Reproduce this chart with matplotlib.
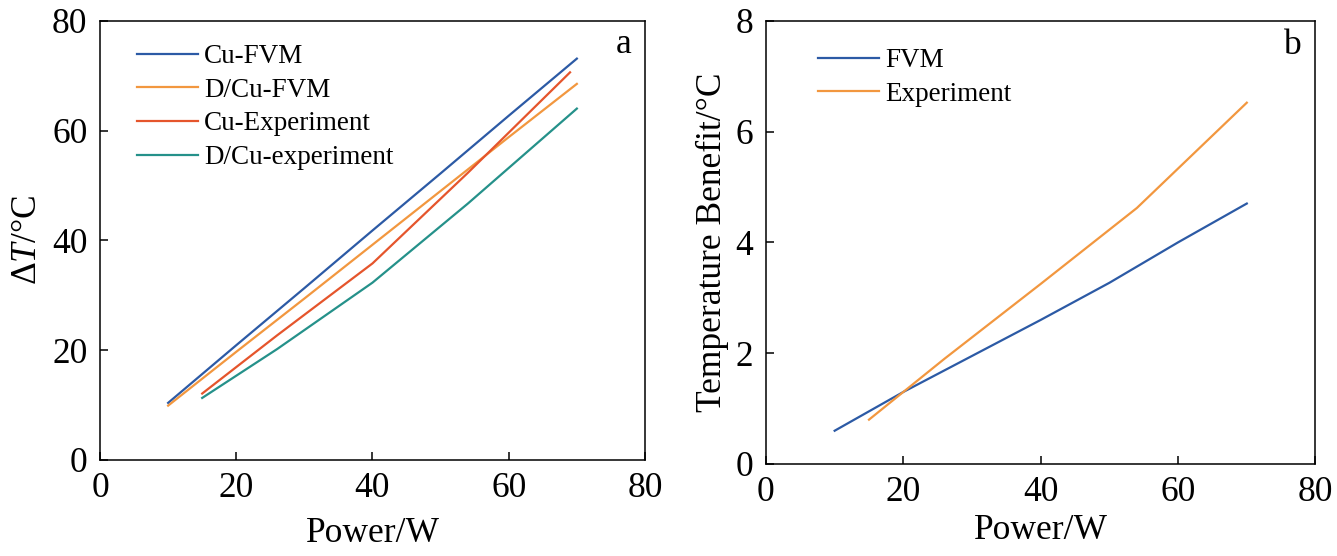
import matplotlib
matplotlib.use("Agg")
import matplotlib.pyplot as plt

# ---- data ----
power_fvm = [10, 20, 30, 40, 50, 60, 70]
cu_fvm = [10.4, 20.9, 31.3, 41.8, 52.2, 62.7, 73.1]
dcu_fvm = [9.9, 19.7, 29.4, 39.2, 49.0, 58.8, 68.5]

cu_exp_power = [15, 26, 40, 54, 69]
cu_exp = [12.1, 22.7, 35.8, 52.3, 70.6]
dcu_exp_power = [15, 26, 40, 54, 70]
dcu_exp = [11.3, 20.2, 32.3, 46.7, 64.0]

benefit_fvm = [0.6, 1.3, 1.95, 2.6, 3.27, 4.0, 4.7]
benefit_exp_power = [15, 26, 40, 54, 70]
benefit_exp = [0.8, 1.9, 3.25, 4.62, 6.52]

labels_a = ["Cu-FVM", "D/Cu-FVM", "Cu-Experiment", "D/Cu-experiment"]
labels_b = ["FVM", "Experiment"]

c_blue = "#2c5aa5"
c_orange = "#f2973f"
c_red = "#e5552c"
c_teal = "#25918a"

plt.rcParams["font.family"] = ["Liberation Serif", "DejaVu Serif"]
plt.rcParams["mathtext.fontset"] = "custom"
plt.rcParams["mathtext.rm"] = "Liberation Serif"
plt.rcParams["mathtext.it"] = "Liberation Serif:italic"

fig = plt.figure(figsize=(13.37, 5.56), dpi=100)
ax1 = fig.add_axes([0.0748, 0.1727, 0.4076, 0.790])
ax2 = fig.add_axes([0.5729, 0.1655, 0.4110, 0.7973])

lw = 1.6
ax1.plot(power_fvm, cu_fvm, color=c_blue, lw=lw, label=labels_a[0])
ax1.plot(power_fvm, dcu_fvm, color=c_orange, lw=lw, label=labels_a[1])
ax1.plot(cu_exp_power, cu_exp, color=c_red, lw=lw, label=labels_a[2])
ax1.plot(dcu_exp_power, dcu_exp, color=c_teal, lw=lw, label=labels_a[3])

ax2.plot(power_fvm, benefit_fvm, color=c_blue, lw=lw, label=labels_b[0])
ax2.plot(benefit_exp_power, benefit_exp, color=c_orange, lw=lw, label=labels_b[1])

fs = 25.5
for ax in (ax1, ax2):
    ax.set_xlim(0, 80)
    ax.set_xticks([0, 20, 40, 60, 80])
    ax.tick_params(direction="in", length=6, width=1.1, labelsize=fs, pad=9,
                   top=False, right=False)
    for s in ax.spines.values():
        s.set_linewidth(1.1)

ax1.set_xlabel("Power/W", fontsize=fs, labelpad=8.5)
ax2.set_xlabel("Power/W", fontsize=fs, labelpad=3.5)

ax1.set_ylim(0, 80)
ax1.set_yticks([0, 20, 40, 60, 80])
ax1.set_ylabel("Δ$\\mathit{T}$/°C", fontsize=fs, labelpad=6)
ax2.set_ylim(0, 8)
ax2.set_yticks([0, 2, 4, 6, 8])
ax2.set_ylabel("Temperature Benefit/°C", fontsize=fs, labelpad=5)

leg_kw = dict(frameon=False, fontsize=19.5, handlelength=2.25, handletextpad=0.22,
              labelspacing=0.32, borderaxespad=0.0, borderpad=0.0)
ax1.legend(loc="upper left", bbox_to_anchor=(0.068, 0.947), **leg_kw)
ax2.legend(loc="upper left", bbox_to_anchor=(0.095, 0.938), **leg_kw)

ax1.text(0.975, 0.945, "a", transform=ax1.transAxes, fontsize=fs,
         ha="right", va="center")
ax2.text(0.975, 0.945, "b", transform=ax2.transAxes, fontsize=fs,
         ha="right", va="center")

fig.savefig("out.png", dpi=100)
